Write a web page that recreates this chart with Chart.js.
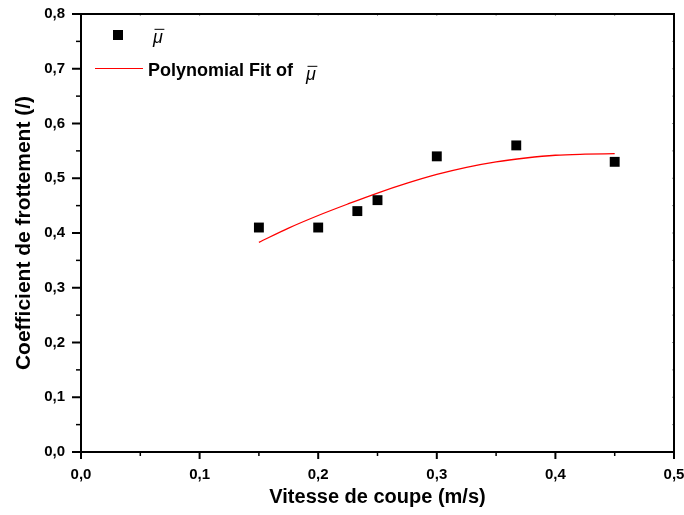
<!DOCTYPE html>
<html>
<head>
<meta charset="utf-8">
<script src="https://cdn.jsdelivr.net/npm/chart.js@4"></script>
<style>
html,body{margin:0;padding:0;background:#fff;}
#wrap{width:684px;height:515px;}
</style>
</head>
<body>
<div id="wrap"><canvas id="c" width="684" height="515"></canvas></div>
<script>
// ---- data ----
const xValues = [0.15, 0.2, 0.233, 0.25, 0.3, 0.367, 0.45];
const muValues = [0.41, 0.41, 0.44, 0.46, 0.54, 0.56, 0.53];
const fitX = [0.15, 0.175, 0.2, 0.225, 0.25, 0.275, 0.3, 0.325, 0.35, 0.375, 0.4, 0.425, 0.45];
const fitY = [0.383, 0.409, 0.432, 0.453, 0.473, 0.491, 0.507, 0.520, 0.530, 0.537, 0.542, 0.544, 0.545];
const xTickLabels = ['0,0', '0,1', '0,2', '0,3', '0,4', '0,5'];
const yTickLabels = ['0,0', '0,1', '0,2', '0,3', '0,4', '0,5', '0,6', '0,7', '0,8'];
const legendLabels = ['\u03bc', 'Polynomial Fit of'];
const xTitle = 'Vitesse de coupe (m/s)';
const yTitle = 'Coefficient de frottement (/)';

const FONT = "'Liberation Sans', Arial, sans-serif";

function majorLabel(value, labels) {
  const k = Math.round(value * 10);
  if (Math.abs(value * 10 - k) < 1e-6 && k >= 0 && k < labels.length) return labels[k];
  return '';
}
function isMajor(value) {
  return Math.abs(value * 10 - Math.round(value * 10)) < 1e-6;
}

const bgPlugin = {
  id: 'bg',
  beforeDraw(chart) {
    const ctx = chart.ctx;
    ctx.save();
    ctx.fillStyle = '#fff';
    ctx.fillRect(0, 0, chart.width, chart.height);
    ctx.restore();
  }
};

function drawMu(ctx, x, baseline, size) {
  ctx.font = 'italic ' + size + 'px ' + FONT;
  ctx.fillStyle = '#000';
  ctx.textBaseline = 'alphabetic';
  ctx.textAlign = 'left';
  ctx.fillText(legendLabels[0], x, baseline);
  const w = ctx.measureText(legendLabels[0]).width;
  ctx.strokeStyle = '#000';
  ctx.lineWidth = 1;
  ctx.beginPath();
  ctx.moveTo(x + 1.5, baseline - size * 0.76);
  ctx.lineTo(x + w + 1.5, baseline - size * 0.76);
  ctx.stroke();
}

const framePlugin = {
  id: 'frame',
  afterDraw(chart) {
    const ctx = chart.ctx;
    const a = chart.chartArea;
    ctx.save();
    // tick marks (major and minor) from the scales' own ticks
    const xs = chart.scales.x, ys = chart.scales.y;
    ctx.strokeStyle = '#000';
    xs.ticks.forEach(t => {
      const px = xs.getPixelForValue(t.value);
      const major = isMajor(t.value);
      ctx.lineWidth = major ? 2 : 1.5;
      ctx.beginPath();
      ctx.moveTo(px, a.bottom);
      ctx.lineTo(px, a.bottom + (major ? 7 : 4));
      ctx.stroke();
      // faint inner ticks on top edge
      ctx.save();
      ctx.strokeStyle = '#999';
      ctx.lineWidth = 1;
      ctx.beginPath();
      ctx.moveTo(px, a.top);
      ctx.lineTo(px, a.top + 2);
      ctx.stroke();
      ctx.restore();
    });
    ys.ticks.forEach(t => {
      const py = ys.getPixelForValue(t.value);
      const major = isMajor(t.value);
      ctx.lineWidth = major ? 2 : 1.5;
      ctx.beginPath();
      ctx.moveTo(a.left, py);
      ctx.lineTo(a.left - (major ? 9 : 5), py);
      ctx.stroke();
      ctx.save();
      ctx.strokeStyle = '#999';
      ctx.lineWidth = 1;
      ctx.beginPath();
      ctx.moveTo(a.right, py);
      ctx.lineTo(a.right - 2, py);
      ctx.stroke();
      ctx.restore();
    });
    ctx.strokeStyle = '#000';
    ctx.lineWidth = 2;
    ctx.strokeRect(a.left, a.top, a.right - a.left, a.bottom - a.top);
    // legend
    const ds0 = chart.data.datasets[0];
    const ds1 = chart.data.datasets[1];
    ctx.fillStyle = ds0.backgroundColor;
    ctx.fillRect(113, 30, 10, 10);
    drawMu(ctx, 153, 43, 18);
    ctx.strokeStyle = ds1.borderColor;
    ctx.lineWidth = 1;
    ctx.beginPath();
    ctx.moveTo(95, 68.5);
    ctx.lineTo(143, 68.5);
    ctx.stroke();
    ctx.fillStyle = '#000';
    ctx.font = 'bold 18px ' + FONT;
    ctx.textBaseline = 'alphabetic';
    ctx.textAlign = 'left';
    ctx.fillText(legendLabels[1], 148, 76);
    const w = ctx.measureText(legendLabels[1]).width;
    drawMu(ctx, 148 + w + 13, 80, 18);
    ctx.restore();
  }
};

new Chart(document.getElementById('c'), {
  type: 'scatter',
  data: {
    datasets: [
      {
        label: legendLabels[0],
        data: xValues.map((x, i) => ({x: x, y: muValues[i]})),
        pointStyle: 'rect',
        pointRadius: 7,
        pointHoverRadius: 7,
        backgroundColor: '#000',
        borderColor: '#000',
        borderWidth: 0,
        showLine: false
      },
      {
        label: legendLabels[1],
        data: fitX.map((x, i) => ({x: x, y: fitY[i]})),
        showLine: true,
        borderColor: '#ff0000',
        borderWidth: 1.3,
        pointRadius: 0,
        pointHoverRadius: 0,
        cubicInterpolationMode: 'monotone',
        fill: false
      }
    ]
  },
  options: {
    responsive: false,
    animation: false,
    devicePixelRatio: 1,
    layout: {padding: {left: 0, top: 14, right: 10, bottom: 0}},
    plugins: {legend: {display: false}, tooltip: {enabled: false}},
    scales: {
      x: {
        type: 'linear',
        min: 0, max: 0.5,
        afterFit(scale) { scale.height = 63; scale.paddingLeft = 0; scale.paddingRight = 0; },
        border: {display: true, color: '#000', width: 2},
        grid: {drawOnChartArea: false, drawTicks: false},
        ticks: {
          stepSize: 0.05, autoSkip: false, maxRotation: 0, padding: 14,
          color: '#000', font: {family: FONT, size: 15, weight: 'bold'},
          callback: (v) => majorLabel(v, xTickLabels)
        },
        title: {
          display: true, text: xTitle, color: '#000',
          font: {family: FONT, size: 20, weight: 'bold'},
          padding: {top: 0, bottom: 6}
        }
      },
      y: {
        type: 'linear',
        min: 0, max: 0.8,
        afterFit(scale) { scale.width = 81; scale.paddingTop = 0; scale.paddingBottom = 0; },
        border: {display: true, color: '#000', width: 2},
        grid: {drawOnChartArea: false, drawTicks: false},
        ticks: {
          stepSize: 0.05, autoSkip: false, padding: 16,
          color: '#000', font: {family: FONT, size: 15, weight: 'bold'},
          callback: (v) => majorLabel(v, yTickLabels)
        },
        title: {
          display: true, text: yTitle, color: '#000',
          font: {family: FONT, size: 21, weight: 'bold'},
          padding: {top: 11.5, bottom: 0}
        }
      }
    }
  },
  plugins: [bgPlugin, framePlugin]
});
</script>
</body>
</html>
